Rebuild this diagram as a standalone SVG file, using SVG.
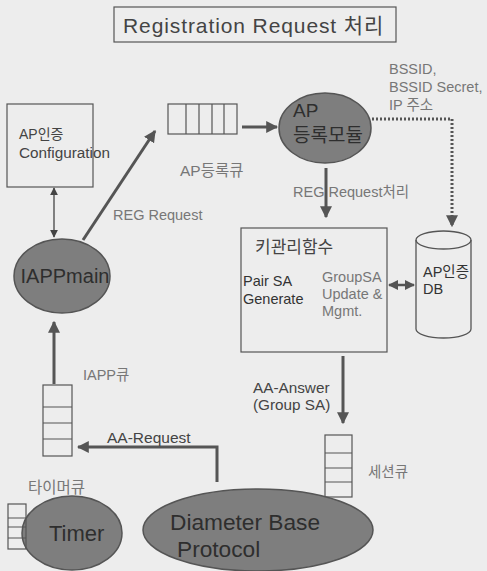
<svg xmlns="http://www.w3.org/2000/svg" width="487" height="571" viewBox="0 0 487 571">
<defs>
<marker id="ah" viewBox="0 0 10 10" refX="9" refY="5" markerWidth="4" markerHeight="4" orient="auto-start-reverse" markerUnits="strokeWidth">
<path d="M0,0 L10,5 L0,10 z" fill="#555"/>
</marker>
<marker id="ahs" viewBox="0 0 10 10" refX="9" refY="5" markerWidth="6" markerHeight="6" orient="auto-start-reverse" markerUnits="strokeWidth">
<path d="M0,0 L10,5 L0,10 z" fill="#444"/>
</marker>
</defs>
<style>
text{font-family:"Liberation Sans","Noto Sans CJK KR",sans-serif;fill:#444}
.box{fill:none;stroke:#555;stroke-width:1.2}
.q{fill:none;stroke:#555;stroke-width:1.2}
.ell{fill:#7e7e7e;stroke:#555;stroke-width:1.5}
.arr{fill:none;stroke:#555;stroke-width:3;marker-end:url(#ah)}
.s12{font-size:14.5px}
.s13{font-size:14.5px}
.gray{fill:#777}
.etx{fill:#2e2e2e}
</style>
<rect width="487" height="571" fill="#ededed"/>

<g id="title">
<rect class="box" x="114" y="7" width="282" height="35"/>
<text x="123" y="33" style="font-size:21px;letter-spacing:0.9px;fill:#444">Registration Request 처리</text>
</g>

<g id="config">
<rect class="box" x="7" y="104" width="86" height="83"/>
<text x="19" y="139" style="font-size:14px">AP인증</text>
<text x="19" y="158" style="font-size:15.3px">Configuration</text>
</g>

<g id="apq">
<rect class="q" x="168" y="104" width="69" height="30"/>
<path class="q" d="M186,104V134M199,104V134M212,104V134M224,104V134"/>
<text class="gray" x="180" y="176" style="font-size:15.5px">AP등록큐</text>
</g>

<g id="iappmain">
<ellipse class="ell" cx="62" cy="276" rx="48" ry="37"/>
<text class="etx" x="65" y="283" text-anchor="middle" style="font-size:20px">IAPPmain</text>
</g>

<g id="apmod">
<ellipse class="ell" cx="325" cy="128" rx="46" ry="35"/>
<text class="etx" x="293" y="117" style="font-size:19px">AP</text>
<text class="etx" x="293" y="142" style="font-size:19px">등록모듈</text>
</g>

<g id="bssid">
<text class="s12 gray" x="389" y="74">BSSID,</text>
<text class="s12 gray" x="389" y="92">BSSID Secret,</text>
<text class="s12 gray" x="389" y="110">IP 주소</text>
</g>

<g id="keymgmt">
<rect class="box" x="241" y="228" width="146" height="124"/>
<text x="255" y="253" style="font-size:17px">키관리함수</text>
<text class="s13" x="243" y="286" style="fill:#333">Pair SA</text>
<text class="s13" x="243" y="304" style="fill:#333">Generate</text>
<text class="s13 gray" x="322" y="282">GroupSA</text>
<text class="s13 gray" x="322" y="299">Update &amp;</text>
<text class="s13 gray" x="322" y="316">Mgmt.</text>
</g>

<g id="db">
<path d="M416,240 V329 A27.5,9 0 0 0 471,329 V240" fill="none" stroke="#555" stroke-width="1.3"/>
<ellipse cx="443.5" cy="240" rx="27.5" ry="9" fill="none" stroke="#555" stroke-width="1.3"/>
<text class="s13" x="423" y="277" style="fill:#333">AP인증</text>
<text class="s13" x="423" y="294" style="fill:#333">DB</text>
</g>

<g id="sessq">
<rect class="q" x="325" y="435" width="27" height="62"/>
<path class="q" d="M325,453H352M325,468H352M325,482H352"/>
<text class="s12 gray" x="368" y="477">세션큐</text>
</g>

<g id="iappq">
<rect class="q" x="43" y="385" width="29" height="71"/>
<path class="q" d="M43,407H72M43,423H72M43,439H72"/>
<text class="s12 gray" x="83" y="380">IAPP큐</text>
</g>

<g id="timer">
<ellipse class="ell" cx="72" cy="533" rx="50" ry="37"/>
<text class="etx" x="49" y="541" style="font-size:22px">Timer</text>
</g>

<g id="timerq">
<rect class="q" x="8" y="504" width="18" height="45"/>
<path class="q" d="M8,518H26M8,527H26M8,538H26"/>
<text class="gray" x="28" y="493" style="font-size:15.5px">타이머큐</text>
</g>

<g id="diameter">
<ellipse class="ell" cx="258" cy="530" rx="115" ry="41"/>
<text class="etx" x="170" y="530" style="font-size:22.7px">Diameter Base</text>
<text class="etx" x="177" y="557" style="font-size:22.7px">Protocol</text>
</g>

<g id="connectors">
<line x1="54" y1="188" x2="54" y2="237" stroke="#444" stroke-width="1.3" marker-start="url(#ahs)" marker-end="url(#ahs)"/>
<line class="arr" x1="83" y1="240" x2="155" y2="131"/>
<text class="s13 gray" x="113" y="220">REG Request</text>
<line class="arr" x1="242" y1="127" x2="277" y2="127"/>
<path d="M372,119 H452 V226" fill="none" stroke="#555" stroke-width="3" stroke-dasharray="2,2" marker-end="url(#ah)"/>
<line class="arr" x1="326" y1="168" x2="326" y2="217"/>
<text class="s13 gray" x="293" y="197">REG Request처리</text>
<line x1="389" y1="285" x2="414" y2="285" stroke="#555" stroke-width="2.5" marker-start="url(#ah)" marker-end="url(#ah)"/>
<line class="arr" x1="343" y1="356" x2="343" y2="423"/>
<text x="253" y="393" style="font-size:15.3px">AA-Answer</text>
<text x="253" y="410" style="font-size:15.3px">(Group SA)</text>
<line class="arr" x1="54" y1="384" x2="54" y2="322"/>
<polyline class="arr" points="217,482 217,447 78,447"/>
<text x="107" y="443" style="font-size:15.5px">AA-Request</text>
</g>
</svg>
